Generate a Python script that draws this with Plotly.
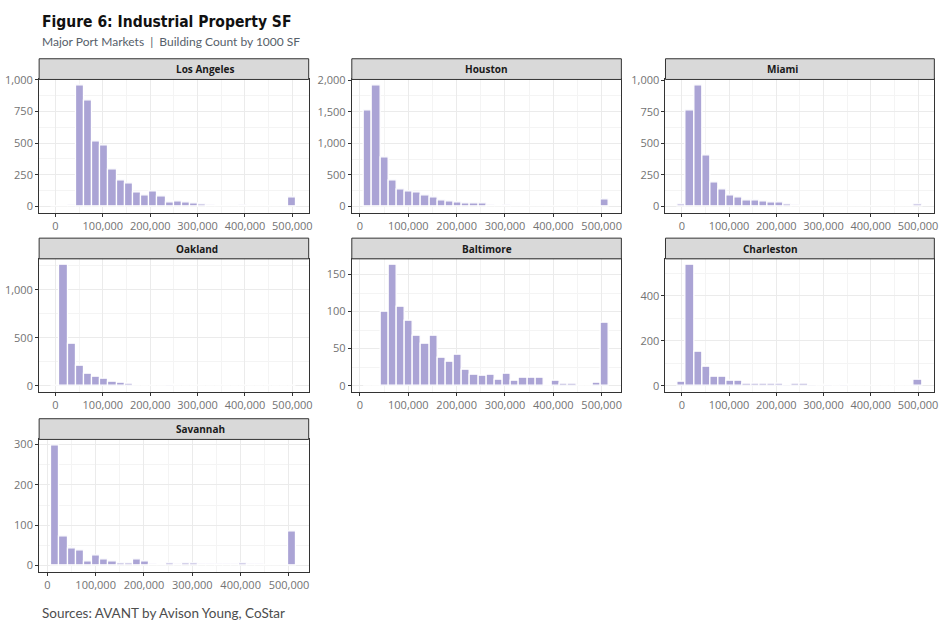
import numpy as np
import plotly.graph_objects as go

# building counts per 1000 SF bin (30 bins per market, ggplot style)
CITIES = ["Los Angeles", "Houston", "Miami", "Oakland", "Baltimore", "Charleston", "Savannah"]
BIN_LO = [0, 16900, 0, 0, 16900, 0, 16900]
BIN_HI = [500000, 507000, 500000, 500000, 507000, 500000, 507000]
Y_DTICK = [250, 500, 250, 500, 50, 200, 100]

los_angeles = [0, 0, 8, 955, 840, 510, 480, 295, 205, 185, 110, 85, 115, 80, 35,
               41, 31, 26, 13, 8, 2, 0, 0, 10, 0, 0, 0, 0, 0, 75]
houston = [1514, 1916, 773, 418, 272, 240, 219, 172, 136, 89, 73, 57, 52, 42, 42,
           18, 8, 22, 5, 2, 0, 0, 0, 0, 0, 0, 0, 0, 0, 104]
miami = [13, 762, 958, 402, 188, 136, 86, 70, 44, 47, 42, 34, 29, 16, 8,
         3, 1, 0, 0, 0, 0, 0, 0, 0, 0, 0, 0, 0, 0, 13]
oakland = [0, 1258, 440, 206, 124, 89, 72, 41, 27, 24, 1, 0, 3, 1, 5,
           0, 0, 0, 0, 0, 0, 0, 0, 0, 0, 0, 0, 0, 0, 1]
baltimore = [0, 0, 100, 163, 107, 87, 67, 56, 67, 37, 32, 42, 21, 14, 13,
             15, 8, 16, 7, 11, 10, 10, 0, 6, 2, 2, 0, 0, 4, 85]
charleston = [15, 538, 152, 85, 38, 38, 21, 23, 10, 9, 6, 6, 9, 3, 9,
              9, 2, 0, 2, 0, 2, 0, 0, 0, 0, 0, 0, 0, 0, 26]
savannah = [298, 72, 43, 37, 10, 25, 16, 10, 6, 6, 16, 10, 3, 0, 5,
            3, 4, 5, 3, 3, 3, 2, 3, 4, 2, 2, 0, 0, 0, 85]
COUNTS = [los_angeles, houston, miami, oakland, baltimore, charleston, savannah]

X_TICKS = [0, 100000, 200000, 300000, 400000, 500000]

W, H = 950, 628
COL_L = [39.3, 353.3, 668.3]
COL_R = [310, 624, 938.3]
ROW_T = [72.5, 254.5, 437.7]
ROW_B = [207.5, 389.3, 571.7]
STRIP_H = 21

BAR = "#aba4d5"
TICK_FONT = dict(family="Open Sans, DejaVu Sans", size=11, color="#737373")

fig = go.Figure()
shapes, annotations = [], []

for i, city in enumerate(CITIES):
    r, c = divmod(i, 3)
    n = i + 1
    counts = COUNTS[i]
    centers = np.linspace(BIN_LO[i], BIN_HI[i], len(counts))
    width = centers[1] - centers[0]
    fig.add_trace(go.Bar(
        x=centers, y=counts, width=width,
        marker=dict(color=BAR, line=dict(color="white", width=1.3)),
        xaxis=f"x{n}", yaxis=f"y{n}", hoverinfo="x+y",
    ))

    lo, hi = centers[0] - width / 2, centers[-1] + width / 2
    pad = 0.05 * (hi - lo)
    ymax = max(counts)

    x0, x1 = COL_L[c] / W, COL_R[c] / W
    y0, y1 = 1 - ROW_B[r] / H, 1 - ROW_T[r] / H
    common = dict(showline=True, mirror=True, linecolor="#333333", linewidth=1,
                  ticks="outside", ticklen=3, tickcolor="#333333", tickfont=TICK_FONT,
                  showgrid=True, gridcolor="#ebebeb", gridwidth=1, zeroline=False)
    fig.layout[f"xaxis{n}"] = dict(
        domain=[x0, x1], anchor=f"y{n}", range=[lo - pad, hi + pad],
        tickvals=X_TICKS, tickformat=",d",
        minor=dict(dtick=50000, tick0=0, showgrid=True, gridcolor="#f4f4f4", gridwidth=0.6),
        **common)
    fig.layout[f"yaxis{n}"] = dict(
        domain=[y0, y1], anchor=f"x{n}", range=[-0.05 * ymax, 1.05 * ymax],
        dtick=Y_DTICK[i], tick0=0, tickformat=",d",
        minor=dict(dtick=Y_DTICK[i] / 2, tick0=0, showgrid=True, gridcolor="#f4f4f4", gridwidth=0.6),
        **common)

    # facet strip
    st = 1 - (ROW_T[r] - STRIP_H) / H
    shapes.append(dict(type="rect", xref="paper", yref="paper", x0=x0, x1=x1, y0=y1, y1=st,
                       fillcolor="#d9d9d9", line=dict(color="#333333", width=1)))
    annotations.append(dict(xref="paper", yref="paper", x=(x0 + x1) / 2, y=(y1 + st) / 2,
                            yanchor="middle", text=f"<b>{city}</b>", showarrow=False,
                            font=dict(family="Open Sans, DejaVu Sans", size=10, color="#1a1a1a")))

annotations += [
    dict(xref="paper", yref="paper", x=40 / W, y=1 - 14 / H, xanchor="left", yanchor="middle",
         text="<b>Figure 6: Industrial Property SF</b>", showarrow=False,
         font=dict(family="Liberation Sans Narrow, DejaVu Sans Condensed, Roboto", size=15.5, color="#111111")),
    dict(xref="paper", yref="paper", x=40 / W, y=1 - 34 / H, xanchor="left", yanchor="middle",
         text="Major Port Markets  |  Building Count by 1000 SF", showarrow=False,
         font=dict(family="Lato, Open Sans", size=12, color="#56606a")),
    dict(xref="paper", yref="paper", x=40 / W, y=1 - 614 / H, xanchor="left", yanchor="middle",
         text="Sources: AVANT by Avison Young, CoStar", showarrow=False,
         font=dict(family="Lato, Open Sans", size=13.5, color="#4d4d4d")),
]

fig.update_layout(
    width=W, height=H, margin=dict(l=0, r=0, t=0, b=0),
    paper_bgcolor="white", plot_bgcolor="white", showlegend=False,
    bargap=0, shapes=shapes, annotations=annotations,
)

# drop the default page margin so the figure sits at the window's corner
fig.write_html("out.html", config={"displayModeBar": False},
               post_script="document.body.style.margin='0';document.body.style.overflow='hidden';")
